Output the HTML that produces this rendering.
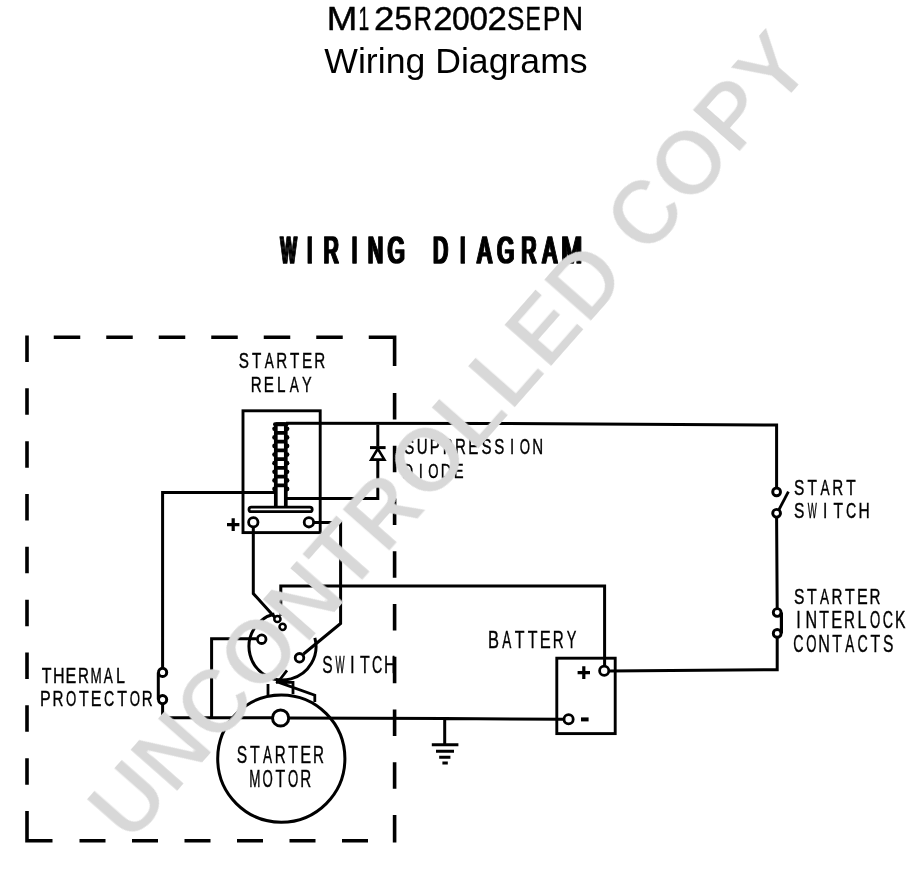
<!DOCTYPE html>
<html lang="en"><head><meta charset="utf-8"><title>M125R2002SEPN Wiring Diagrams</title>
<style>html,body{margin:0;padding:0;background:#fff}body{width:912px;height:870px;overflow:hidden}svg{display:block}</style>
</head><body>
<svg width="912" height="870" viewBox="0 0 912 870" font-family="'Liberation Sans', Arial, sans-serif">
<rect width="912" height="870" fill="#fff"/>
<defs>
<filter id="fat" x="-5%" y="-20%" width="110%" height="140%"><feMorphology operator="dilate" radius="1 0"/></filter>
<filter id="thin" x="-2%" y="-20%" width="104%" height="140%"><feMorphology operator="erode" radius="1"/></filter>
</defs>
<g fill="#000" opacity="0.999">
<text aria-label="M125R2002SEPN" y="30.2" font-size="32.7" stroke="#000" stroke-width="0.45"><tspan x="326.7" textLength="30.51" lengthAdjust="spacingAndGlyphs">M</tspan><tspan x="358.53" textLength="10.71" lengthAdjust="spacingAndGlyphs">1</tspan><tspan x="373.96" textLength="20.39" lengthAdjust="spacingAndGlyphs">2</tspan><tspan x="394.53" textLength="17.6" lengthAdjust="spacingAndGlyphs">5</tspan><tspan x="413.73" textLength="18.24" lengthAdjust="spacingAndGlyphs">R</tspan><tspan x="433.26" textLength="19.29" lengthAdjust="spacingAndGlyphs">2</tspan><tspan x="452.06" textLength="17.68" lengthAdjust="spacingAndGlyphs">0</tspan><tspan x="469.5" textLength="18.5" lengthAdjust="spacingAndGlyphs">0</tspan><tspan x="487.46" textLength="19.29" lengthAdjust="spacingAndGlyphs">2</tspan><tspan x="507.12" textLength="17.38" lengthAdjust="spacingAndGlyphs">S</tspan><tspan x="525.61" textLength="15.38" lengthAdjust="spacingAndGlyphs">E</tspan><tspan x="542.81" textLength="17.8" lengthAdjust="spacingAndGlyphs">P</tspan><tspan x="561.76" textLength="21.46" lengthAdjust="spacingAndGlyphs">N</tspan></text>
<text x="324.3" y="73.3" font-size="35.5" textLength="263.4" lengthAdjust="spacingAndGlyphs">Wiring Diagrams</text>
</g>
<text aria-label="WIRING DIAGRAM" y="262.5" font-size="37.79" fill="#000" stroke="#000" stroke-width="1.4" stroke-linejoin="round" filter="url(#fat)"><tspan x="280.73" textLength="15.73" lengthAdjust="spacingAndGlyphs">W</tspan><tspan x="307.37" textLength="5.06" lengthAdjust="spacingAndGlyphs">I</tspan><tspan x="323.85" textLength="14.96" lengthAdjust="spacingAndGlyphs">R</tspan><tspan x="352.07" textLength="5.06" lengthAdjust="spacingAndGlyphs">I</tspan><tspan x="368.1" textLength="15" lengthAdjust="spacingAndGlyphs">N</tspan><tspan x="387.81" textLength="16.92" lengthAdjust="spacingAndGlyphs">G</tspan><tspan x="418"> </tspan><tspan x="433.14" textLength="14.63" lengthAdjust="spacingAndGlyphs">D</tspan><tspan x="460.17" textLength="5.06" lengthAdjust="spacingAndGlyphs">I</tspan><tspan x="477.56" textLength="14.08" lengthAdjust="spacingAndGlyphs">A</tspan><tspan x="497.21" textLength="16.92" lengthAdjust="spacingAndGlyphs">G</tspan><tspan x="521.55" textLength="14.96" lengthAdjust="spacingAndGlyphs">R</tspan><tspan x="542.86" textLength="14.08" lengthAdjust="spacingAndGlyphs">A</tspan><tspan x="561.59" textLength="20.42" lengthAdjust="spacingAndGlyphs">M</tspan></text>
<g fill="#000" stroke="#000" stroke-width="0.4" opacity="0.999">
<text aria-label="STARTER" y="368" font-size="21.8"><tspan x="238.81" textLength="10.18" lengthAdjust="spacingAndGlyphs">S</tspan><tspan x="251.92" textLength="9.32" lengthAdjust="spacingAndGlyphs">T</tspan><tspan x="264.74" textLength="9.05" lengthAdjust="spacingAndGlyphs">A</tspan><tspan x="276.2" textLength="10.95" lengthAdjust="spacingAndGlyphs">R</tspan><tspan x="289.97" textLength="9.32" lengthAdjust="spacingAndGlyphs">T</tspan><tspan x="301.93" textLength="10.18" lengthAdjust="spacingAndGlyphs">E</tspan><tspan x="314.26" textLength="10.95" lengthAdjust="spacingAndGlyphs">R</tspan></text>
<text aria-label="RELAY" y="391.8" font-size="21.8"><tspan x="250.76" textLength="10.95" lengthAdjust="spacingAndGlyphs">R</tspan><tspan x="263.69" textLength="10.18" lengthAdjust="spacingAndGlyphs">E</tspan><tspan x="277.03" textLength="8.49" lengthAdjust="spacingAndGlyphs">L</tspan><tspan x="289.7" textLength="9.05" lengthAdjust="spacingAndGlyphs">A</tspan><tspan x="301.98" textLength="9.63" lengthAdjust="spacingAndGlyphs">Y</tspan></text>
<text aria-label="SUPPRESSION" y="453.8" font-size="21.51"><tspan x="404.32" textLength="10.04" lengthAdjust="spacingAndGlyphs">S</tspan><tspan x="416.74" textLength="10.87" lengthAdjust="spacingAndGlyphs">U</tspan><tspan x="429.78" textLength="10.04" lengthAdjust="spacingAndGlyphs">P</tspan><tspan x="442.63" textLength="10.04" lengthAdjust="spacingAndGlyphs">P</tspan><tspan x="455.01" textLength="10.87" lengthAdjust="spacingAndGlyphs">R</tspan><tspan x="468.25" textLength="10.04" lengthAdjust="spacingAndGlyphs">E</tspan><tspan x="481.39" textLength="10.04" lengthAdjust="spacingAndGlyphs">S</tspan><tspan x="494.24" textLength="10.04" lengthAdjust="spacingAndGlyphs">S</tspan><tspan x="510.01" textLength="4.18" lengthAdjust="spacingAndGlyphs">I</tspan><tspan x="519.82" textLength="10.26" lengthAdjust="spacingAndGlyphs">O</tspan><tspan x="532.35" textLength="10.87" lengthAdjust="spacingAndGlyphs">N</tspan></text>
<text aria-label="DIODE" y="478" font-size="21.08"><tspan x="402.39" textLength="10.65" lengthAdjust="spacingAndGlyphs">D</tspan><tspan x="418.68" textLength="4.1" lengthAdjust="spacingAndGlyphs">I</tspan><tspan x="428.36" textLength="10.26" lengthAdjust="spacingAndGlyphs">O</tspan><tspan x="440.66" textLength="10.65" lengthAdjust="spacingAndGlyphs">D</tspan><tspan x="453.79" textLength="9.84" lengthAdjust="spacingAndGlyphs">E</tspan></text>
<text aria-label="START" y="494.5" font-size="22.09"><tspan x="794.1" textLength="10.32" lengthAdjust="spacingAndGlyphs">S</tspan><tspan x="807.45" textLength="9.45" lengthAdjust="spacingAndGlyphs">T</tspan><tspan x="820.56" textLength="9.05" lengthAdjust="spacingAndGlyphs">A</tspan><tspan x="832.27" textLength="10.95" lengthAdjust="spacingAndGlyphs">R</tspan><tspan x="846.21" textLength="9.45" lengthAdjust="spacingAndGlyphs">T</tspan></text>
<text aria-label="SWITCH" y="518.3" font-size="22.24"><tspan x="794.09" textLength="10.38" lengthAdjust="spacingAndGlyphs">S</tspan><tspan x="807.71" textLength="9.08" lengthAdjust="spacingAndGlyphs">W</tspan><tspan x="823.07" textLength="4.33" lengthAdjust="spacingAndGlyphs">I</tspan><tspan x="833.45" textLength="9.51" lengthAdjust="spacingAndGlyphs">T</tspan><tspan x="845.96" textLength="10.26" lengthAdjust="spacingAndGlyphs">C</tspan><tspan x="858.53" textLength="11.24" lengthAdjust="spacingAndGlyphs">H</tspan></text>
<text aria-label="STARTER" y="603.8" font-size="22.97"><tspan x="794.09" textLength="10.43" lengthAdjust="spacingAndGlyphs">S</tspan><tspan x="807.11" textLength="9.72" lengthAdjust="spacingAndGlyphs">T</tspan><tspan x="820.11" textLength="9.05" lengthAdjust="spacingAndGlyphs">A</tspan><tspan x="831.56" textLength="10.95" lengthAdjust="spacingAndGlyphs">R</tspan><tspan x="845.11" textLength="9.72" lengthAdjust="spacingAndGlyphs">T</tspan><tspan x="856.96" textLength="10.72" lengthAdjust="spacingAndGlyphs">E</tspan><tspan x="869.56" textLength="10.95" lengthAdjust="spacingAndGlyphs">R</tspan></text>
<text aria-label="INTERLOCK" y="628" font-size="23.26"><tspan x="796.3" textLength="4.52" lengthAdjust="spacingAndGlyphs">I</tspan><tspan x="805.52" textLength="11.64" lengthAdjust="spacingAndGlyphs">N</tspan><tspan x="819.26" textLength="9.72" lengthAdjust="spacingAndGlyphs">T</tspan><tspan x="831.15" textLength="10.86" lengthAdjust="spacingAndGlyphs">E</tspan><tspan x="843.94" textLength="10.95" lengthAdjust="spacingAndGlyphs">R</tspan><tspan x="857.54" textLength="9.05" lengthAdjust="spacingAndGlyphs">L</tspan><tspan x="870.12" textLength="10.26" lengthAdjust="spacingAndGlyphs">O</tspan><tspan x="882.8" textLength="10.26" lengthAdjust="spacingAndGlyphs">C</tspan><tspan x="895.01" textLength="10.46" lengthAdjust="spacingAndGlyphs">K</tspan></text>
<text aria-label="CONTACTS" y="652" font-size="23.84"><tspan x="793.28" textLength="10.26" lengthAdjust="spacingAndGlyphs">C</tspan><tspan x="806.2" textLength="10.26" lengthAdjust="spacingAndGlyphs">O</tspan><tspan x="818.34" textLength="11.64" lengthAdjust="spacingAndGlyphs">N</tspan><tspan x="832.13" textLength="9.72" lengthAdjust="spacingAndGlyphs">T</tspan><tspan x="845.29" textLength="9.05" lengthAdjust="spacingAndGlyphs">A</tspan><tspan x="857.42" textLength="10.26" lengthAdjust="spacingAndGlyphs">C</tspan><tspan x="870.61" textLength="9.72" lengthAdjust="spacingAndGlyphs">T</tspan><tspan x="883.09" textLength="10.43" lengthAdjust="spacingAndGlyphs">S</tspan></text>
<text aria-label="BATTERY" y="648.3" font-size="23.55"><tspan x="487.95" textLength="10.99" lengthAdjust="spacingAndGlyphs">B</tspan><tspan x="502.13" textLength="9.05" lengthAdjust="spacingAndGlyphs">A</tspan><tspan x="514.77" textLength="9.72" lengthAdjust="spacingAndGlyphs">T</tspan><tspan x="527.74" textLength="9.72" lengthAdjust="spacingAndGlyphs">T</tspan><tspan x="539.74" textLength="10.99" lengthAdjust="spacingAndGlyphs">E</tspan><tspan x="552.79" textLength="10.95" lengthAdjust="spacingAndGlyphs">R</tspan><tspan x="566.68" textLength="9.63" lengthAdjust="spacingAndGlyphs">Y</tspan></text>
<text aria-label="SWITCH" y="673.4" font-size="23.84"><tspan x="322.29" textLength="10.43" lengthAdjust="spacingAndGlyphs">S</tspan><tspan x="335.4" textLength="9.08" lengthAdjust="spacingAndGlyphs">W</tspan><tspan x="350.06" textLength="4.64" lengthAdjust="spacingAndGlyphs">I</tspan><tspan x="359.96" textLength="9.72" lengthAdjust="spacingAndGlyphs">T</tspan><tspan x="372.04" textLength="10.26" lengthAdjust="spacingAndGlyphs">C</tspan><tspan x="383.88" textLength="11.64" lengthAdjust="spacingAndGlyphs">H</tspan></text>
<text aria-label="THERMAL" y="682.5" font-size="22.97"><tspan x="41.64" textLength="9.72" lengthAdjust="spacingAndGlyphs">T</tspan><tspan x="53.07" textLength="11.61" lengthAdjust="spacingAndGlyphs">H</tspan><tspan x="65.58" textLength="10.72" lengthAdjust="spacingAndGlyphs">E</tspan><tspan x="77.88" textLength="10.95" lengthAdjust="spacingAndGlyphs">R</tspan><tspan x="90.4" textLength="11.21" lengthAdjust="spacingAndGlyphs">M</tspan><tspan x="103.85" textLength="9.05" lengthAdjust="spacingAndGlyphs">A</tspan><tspan x="115.89" textLength="8.94" lengthAdjust="spacingAndGlyphs">L</tspan></text>
<text aria-label="PROTECTOR" y="706.3" font-size="22.97"><tspan x="39.98" textLength="10.72" lengthAdjust="spacingAndGlyphs">P</tspan><tspan x="52.57" textLength="10.95" lengthAdjust="spacingAndGlyphs">R</tspan><tspan x="65.93" textLength="10.26" lengthAdjust="spacingAndGlyphs">O</tspan><tspan x="78.94" textLength="9.72" lengthAdjust="spacingAndGlyphs">T</tspan><tspan x="90.86" textLength="10.72" lengthAdjust="spacingAndGlyphs">E</tspan><tspan x="104.06" textLength="10.26" lengthAdjust="spacingAndGlyphs">C</tspan><tspan x="117.16" textLength="9.72" lengthAdjust="spacingAndGlyphs">T</tspan><tspan x="129.64" textLength="10.26" lengthAdjust="spacingAndGlyphs">O</tspan><tspan x="141.76" textLength="10.95" lengthAdjust="spacingAndGlyphs">R</tspan></text>
<text aria-label="STARTER" y="762.5" font-size="23.26"><tspan x="236.79" textLength="10.43" lengthAdjust="spacingAndGlyphs">S</tspan><tspan x="249.94" textLength="9.72" lengthAdjust="spacingAndGlyphs">T</tspan><tspan x="263.07" textLength="9.05" lengthAdjust="spacingAndGlyphs">A</tspan><tspan x="274.66" textLength="10.95" lengthAdjust="spacingAndGlyphs">R</tspan><tspan x="288.34" textLength="9.72" lengthAdjust="spacingAndGlyphs">T</tspan><tspan x="300.25" textLength="10.86" lengthAdjust="spacingAndGlyphs">E</tspan><tspan x="313.06" textLength="10.95" lengthAdjust="spacingAndGlyphs">R</tspan></text>
<text aria-label="MOTOR" y="786.7" font-size="23.26"><tspan x="249.3" textLength="11.21" lengthAdjust="spacingAndGlyphs">M</tspan><tspan x="262.53" textLength="10.26" lengthAdjust="spacingAndGlyphs">O</tspan><tspan x="275.54" textLength="9.72" lengthAdjust="spacingAndGlyphs">T</tspan><tspan x="288.03" textLength="10.26" lengthAdjust="spacingAndGlyphs">O</tspan><tspan x="300.16" textLength="10.95" lengthAdjust="spacingAndGlyphs">R</tspan></text>
</g>
<g fill="none" stroke="#000">
<path d="M27 335.5V362M27 388.33V414.83M27 441.16V467.66M27 493.99V520.49M27 546.82V573.32M27 599.65V626.15M27 652.48V678.98M27 705.31V731.81M27 758.14V784.64M27 810.97V842.4M53.75 337.2H80.25M106.25 337.2H132.75M158.75 337.2H185.25M211.25 337.2H237.75M263.75 337.2H290.25M316.25 337.2H342.75M368.75 337.2H396.2M394.6 335.5V366M394.6 393V419.5M394.6 445.75V472.25M394.6 498.5V525M394.6 551.25V577.75M394.6 604V630.5M394.6 656.75V683.25M394.6 709.5V736M394.6 762.25V788.75M394.6 815V842.4M25.25 840.8H52.5M79.5 840.8H105.5M132 840.8H158M184.5 840.8H210.5M237 840.8H263M289.5 840.8H315.5M342 840.8H368" stroke-width="3.6" stroke-linecap="butt"/>
<path d="M286 423.3L500 423.4L776.6 425.1V487.5M776.6 518L777.2 608.5M777.2 638V669.7L609 670.9M377.8 423.3V446.5M377.8 460V498.6H287M275 492.6H162.6V668.2M162.6 703.6V717.8H272M289 718L444 718.4L563.4 719.3M158.3 672.4V699.6M253.3 527V593.6L275 617.5M314 522.5H340.6V623.5L303.5 654M280.8 616V586H604.6V665.5M256.5 638.7H211.6V718M444.7 718V744.6M431.8 744.8H458.4M436 751.3H454M439.2 757.2H450.4M442.4 763H447.8" stroke-width="3" stroke-linejoin="miter"/>
<rect x="243" y="410.8" width="77.2" height="121.8" stroke-width="2.9"/>
<path d="M275.8 423.5V506M285.8 423.5V506M275.8 424.2H285.8M275.8 432.95H285.8M275.8 441.7H285.8M275.8 450.45H285.8M275.8 459.2H285.8M275.8 467.95H285.8M275.8 476.7H285.8M275.8 485.45H285.8" stroke-width="3.7"/>
<path d="M275 424.3H286.5" stroke-width="4" stroke-linecap="round"/>
<g fill="#000" stroke="none"><circle cx="274.6" cy="428.8" r="2.4"/><circle cx="287" cy="428.8" r="2.4"/><circle cx="274.6" cy="437.4" r="2.4"/><circle cx="287" cy="437.4" r="2.4"/><circle cx="274.6" cy="446" r="2.4"/><circle cx="287" cy="446" r="2.4"/><circle cx="274.6" cy="454.6" r="2.4"/><circle cx="287" cy="454.6" r="2.4"/><circle cx="274.6" cy="463.2" r="2.4"/><circle cx="287" cy="463.2" r="2.4"/><circle cx="274.6" cy="471.8" r="2.4"/><circle cx="287" cy="471.8" r="2.4"/><circle cx="274.6" cy="480.4" r="2.4"/><circle cx="287" cy="480.4" r="2.4"/><circle cx="274.6" cy="489" r="2.4"/><circle cx="287" cy="489" r="2.4"/></g>
<rect x="249" y="507.1" width="63.2" height="4.6" rx="2.3" stroke-width="2.8" fill="#fff"/>
<circle cx="253.3" cy="522.3" r="4.7" stroke-width="2.8" fill="#fff"/>
<circle cx="308.9" cy="522.3" r="4.7" stroke-width="2.8" fill="#fff"/>
<path d="M227 524.6H239.4M233.2 518.3V531" stroke-width="3.2"/>
<path d="M577.6 672.6H590M583.8 666.2V679" stroke-width="3.2"/>
<path d="M581 719.4H588.6" stroke-width="4"/>
<path d="M370 447.6H385.6" stroke-width="3"/>
<path d="M377.8 448.8L371.2 459.6H384.4Z" stroke-width="2.6" fill="#fff"/>
<circle cx="162.6" cy="672.4" r="4.1" stroke-width="3" fill="#fff"/>
<circle cx="162.6" cy="699.6" r="4.1" stroke-width="3" fill="#fff"/>
<circle cx="776.6" cy="491.9" r="3.9" stroke-width="2.9" fill="#fff"/>
<circle cx="776.6" cy="513.3" r="3.9" stroke-width="2.9" fill="#fff"/>
<path d="M778.8 510L788.4 491.6" stroke-width="2.8"/>
<circle cx="777.2" cy="612.5" r="3.9" stroke-width="2.9" fill="#fff"/>
<circle cx="777.2" cy="633.4" r="3.9" stroke-width="2.9" fill="#fff"/>
<path d="M781.4 612.5V633.4" stroke-width="3.2"/>
<rect x="556.8" y="658.2" width="58.4" height="75.4" stroke-width="2.9"/>
<circle cx="604.2" cy="670.8" r="4.6" stroke-width="2.8" fill="#fff"/>
<circle cx="568.6" cy="719.3" r="4.6" stroke-width="2.8" fill="#fff"/>
<path d="M274.4 614A33.5 33.5 0 1 0 314.86 637.83" stroke-width="3"/>
<circle cx="277.4" cy="619" r="3.1" stroke-width="2.5" fill="#fff"/>
<circle cx="282.6" cy="626.8" r="3.1" stroke-width="2.5" fill="#fff"/>
<circle cx="261.7" cy="639.2" r="4.3" stroke-width="2.8" fill="#fff"/>
<circle cx="299.5" cy="657.8" r="4.3" stroke-width="2.8" fill="#fff"/>
<path d="M268 684V696M276 682.3H293V694M276 681.4L314.8 695.2V702M287 670.4L279.6 680" stroke-width="2.8"/>
<circle cx="281.3" cy="758.6" r="63.6" stroke-width="3"/>
<circle cx="280.6" cy="718" r="8.1" stroke-width="3" fill="#fff"/>
</g>
<text transform="translate(130.2 845.6) rotate(-48.65) scale(0.97 1)" font-size="93" font-weight="bold" fill="#d8d8d8" filter="url(#thin)">UNCONTROLLED COPY</text>
</svg>
</body></html>
